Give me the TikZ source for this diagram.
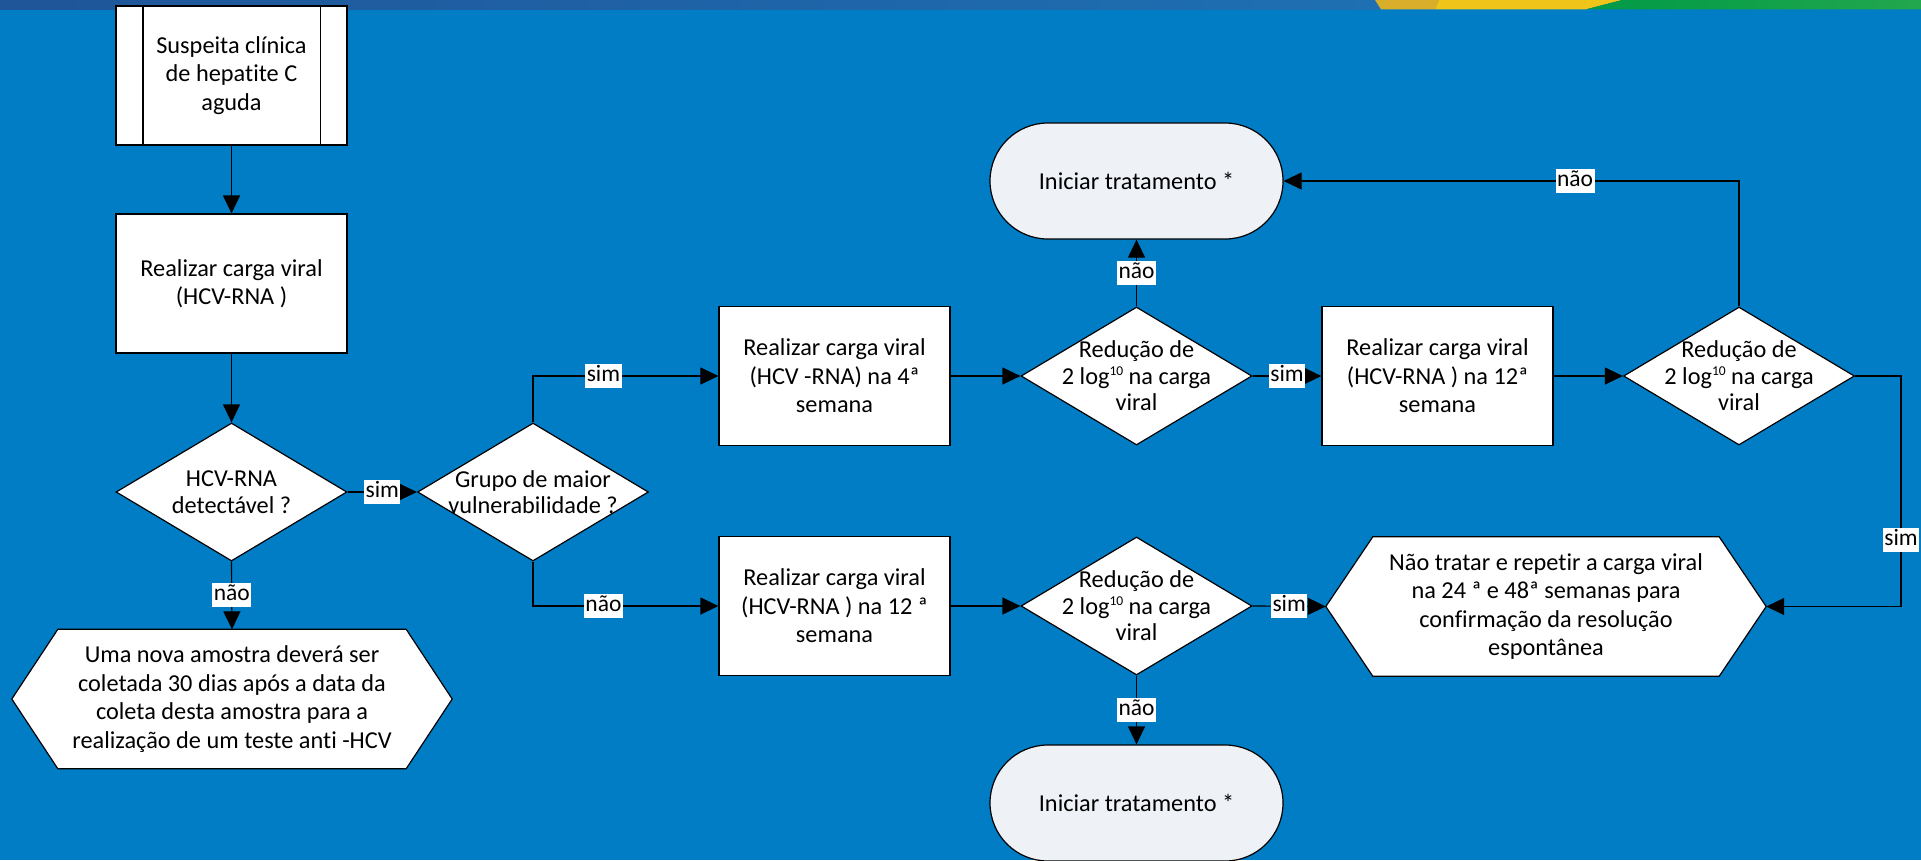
\documentclass[tikz,border=0pt]{standalone}
\usepackage{fontspec}
\setmainfont{Carlito}[Ligatures=NoCommon]
\usetikzlibrary{shapes.geometric,arrows.meta}
\definecolor{bgblue}{HTML}{007DC5}
\definecolor{termfill}{HTML}{EEF1F6}
\definecolor{bandA}{HTML}{1F5599}
\definecolor{bandB}{HTML}{1E70B3}
\definecolor{yelA}{HTML}{D9AE2A}
\definecolor{yelB}{HTML}{F0C419}
\definecolor{grnA}{HTML}{009A47}
\definecolor{grnB}{HTML}{22A74E}
\newcommand\fsz{\fontsize{24.3pt}{28.5pt}\selectfont}
\newcommand\dsz{\fontsize{24.3pt}{26.5pt}\selectfont}
\newcommand\lsz{\fontsize{23.5pt}{28pt}\selectfont}
\newcommand\tenexp{\raisebox{9pt}{\fontsize{13.5pt}{13.5pt}\selectfont 10}}
\pgfdeclarelayer{bg}
\pgfsetlayers{bg,main}
\begin{document}
\begin{tikzpicture}[x=1pt,y=-1pt,
  shapeline/.style={draw=black, line width=1.2pt},
  box/.style={shapeline, fill=white, rectangle, minimum width=231pt, minimum height=139pt, align=center, font=\fsz, inner sep=0pt, text=black},
  dec/.style={shapeline, fill=white, diamond, shape aspect=1.674, minimum width=231pt, minimum height=138pt, inner sep=-16pt, align=center, font=\dsz, text=black},
  term/.style={shapeline, fill=termfill, rectangle, rounded corners=57.9pt, minimum width=293pt, minimum height=116pt, font=\fsz, text=black, inner sep=0pt},
  hexn/.style={rectangle, minimum width=440pt, minimum height=139pt, align=center, font=\fsz, inner sep=0pt, text=black},
  lbl/.style={fill=white, text=black, font=\lsz, inner sep=1.5pt, text height=16pt, text depth=5pt},
  arr/.style={-{Triangle[length=18pt,width=17pt]}, line width=1.2pt, draw=black},
  plain/.style={line width=1.2pt, draw=black}
]
\useasboundingbox (0,0) rectangle (1921,860);

% nodes
\node[box] (start) at (231.5,75.5) {Suspeita clínica\\de hepatite C\\aguda};
\draw[plain] ([xshift=27.5pt]start.north west) -- ([xshift=27.5pt]start.south west);
\draw[plain] ([xshift=-27.5pt]start.north east) -- ([xshift=-27.5pt]start.south east);
\node[box] (rna) at (231.5,283.5) {Realizar carga viral\\(HCV-RNA )};
\node[dec] (d1) at (231.5,492) {HCV-RNA\\detectável ?};
\node[dec] (d2) at (533,492) {Grupo de maior\\vulnerabilidade ?};
\node[hexn] (hexL) at (232,699) {Uma nova amostra deverá ser\\coletada 30 dias após a data da\\coleta desta amostra para a\\realização de um teste anti -HCV};
\node[box] (b4) at (834.5,376) {Realizar carga viral\\(HCV -RNA) na 4ª\\semana};
\node[dec] (d3) at (1136.5,376) {Redução de\\2 log\tenexp\ na carga\\viral};
\node[box] (b12t) at (1437.5,376) {Realizar carga viral\\(HCV-RNA ) na 12ª\\semana};
\node[dec] (d4) at (1739,376) {Redução de\\2 log\tenexp\ na carga\\viral};
\node[term] (t1) at (1136.5,181) {Iniciar tratamento *};
\node[box] (b12b) at (834.5,606) {Realizar carga viral\\(HCV-RNA ) na 12 ª\\semana};
\node[dec] (d5) at (1136.5,606) {Redução de\\2 log\tenexp\ na carga\\viral};
\node[hexn] (hexR) at (1546,606.5) {Não tratar e repetir a carga viral\\na 24 ª e 48ª semanas para\\confirmação da resolução\\espontânea};
\node[term] (t2) at (1136.5,803) {Iniciar tratamento *};
\coordinate (rc) at (1901,376);

% background, band and hexagons
\begin{pgfonlayer}{bg}
\fill[bgblue] (0,0) rectangle (1921,860);
\shade[left color=bandA, right color=bandB] (0,0) rectangle (1380,9.3);
\fill[yelA] (1375,0) -- (1439,0) -- (1435,9.3) -- (1381,9.3) -- cycle;
\fill[yelB] (1439,0) -- (1622,0) -- (1586,9.3) -- (1435,9.3) -- cycle;
\shade[left color=grnA, right color=grnB] (1622,0) -- (1921,0) -- (1921,9.3) -- (1586,9.3) -- cycle;
\draw[shapeline, fill=white] (hexL.west) -- ([xshift=46pt]hexL.north west) -- ([xshift=-46pt]hexL.north east) -- (hexL.east) -- ([xshift=-46pt]hexL.south east) -- ([xshift=46pt]hexL.south west) -- cycle;
\draw[shapeline, fill=white] (hexR.west) -- ([xshift=47pt]hexR.north west) -- ([xshift=-47pt]hexR.north east) -- (hexR.east) -- ([xshift=-47pt]hexR.south east) -- ([xshift=47pt]hexR.south west) -- cycle;
\end{pgfonlayer}

% connectors
\draw[arr] (start.south) -- (rna.north);
\draw[arr] (rna.south) -- (d1.north);
\draw[arr] (d1.east) -- node[lbl]{sim} (d2.west);
\draw[arr] (d1.south) -- node[lbl]{não} (hexL.north);
\draw[arr] (d2.north) |- node[lbl, pos=0.69]{sim} (b4.west);
\draw[arr] (d2.south) |- node[lbl, pos=0.69]{não} (b12b.west);
\draw[arr] (b4.east) -- (d3.west);
\draw[arr] (d3.east) -- node[lbl]{sim} (b12t.west);
\draw[arr] (b12t.east) -- (d4.west);
\draw[arr] (d4.north) |- node[lbl, pos=0.68]{não} (t1.east);
\draw[arr] (d3.north) -- node[lbl]{não} (t1.south);
\draw[arr] (d4.east) -- (rc) |- node[lbl, pos=0.355]{sim} (hexR.east);
\draw[arr] (b12b.east) -- (d5.west);
\draw[arr] (d5.east) -- node[lbl]{sim} (hexR.west);
\draw[arr] (d5.south) -- node[lbl]{não} (t2.north);
\end{tikzpicture}
\end{document}
